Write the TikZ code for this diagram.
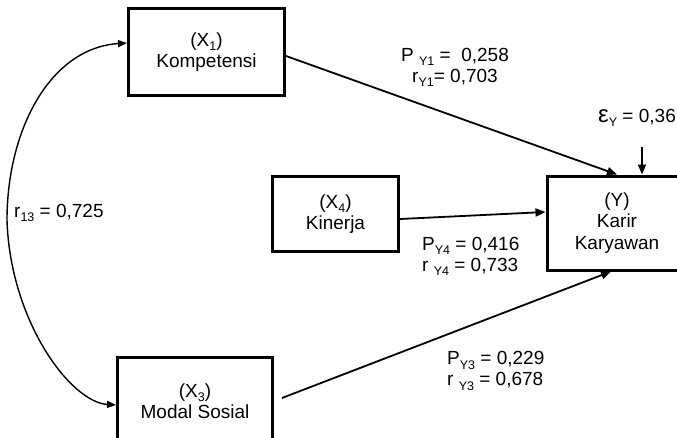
\documentclass[tikz,border=0pt]{standalone}
\usepackage{fontspec}
\setmainfont{Liberation Sans}
\usetikzlibrary{arrows.meta}
\newcommand\sbx[1]{\raisebox{-0.22em}{\fontsize{12.5}{12.5}\selectfont #1}}
\begin{document}
\begin{tikzpicture}[x=1pt,y=-1pt,
  box/.style={draw,line width=3pt,inner sep=0pt,align=center,font=\fontsize{19}{21.5}\selectfont},
  lbl/.style={inner sep=0pt,font=\fontsize{19}{21}\selectfont},
  arr/.style={line width=1.8pt,-{Triangle[length=10pt,width=8pt]}},
  dblarr/.style={line width=1.4pt,{Triangle[length=9pt,width=7pt]}-{Triangle[length=9pt,width=7pt]}},
]
\useasboundingbox (0,0) rectangle (677,437);
\clip (0,0) rectangle (677,437);
% boxes
\node[box,minimum width=156pt,minimum height=87pt] (X1) at (206.5,52) {(X\sbx{1})\\Kompetensi};
\node[box,minimum width=126pt,minimum height=75pt] (X4) at (335.5,214) {(X\sbx{4})\\Kinerja};
\node[box,minimum width=140pt,minimum height=94pt] (Y) at (617,223) {(Y)\\Karir\\Karyawan};
\node[box,minimum width=155pt,minimum height=87pt] (X3) at (195,401) {(X\sbx{3})\\Modal Sosial};
% labels
\node[lbl,align=center] (LY1) at (455,67) {P \sbx{Y1} =\ \ 0,258\\r\sbx{Y1}= 0,703};
\node[lbl,align=left,anchor=west] (LY4) at (422,256) {P\sbx{Y4} = 0,416\\r \sbx{Y4} = 0,733};
\node[lbl,align=left,anchor=west] (LY3) at (447,371) {P\sbx{Y3} = 0,229\\r \sbx{Y3} = 0,678};
\node[lbl,anchor=west] (L13) at (14,213) {r\sbx{13} = 0,725};
\node[lbl] (EPS) at (637,118) {{\fontsize{24}{24}\selectfont ε}\sbx{Y} = 0,36};
\coordinate (epsStart) at (642,147);
% connectors
\draw[arr] ([yshift=-4pt]X1.east) -- (Y.north);
\draw[arr] ([yshift=-5pt]X4.east) -- ([yshift=11pt]Y.west);
\draw[arr] ([xshift=8pt,yshift=3pt]X3.east) -- ([xshift=-6pt]Y.south);
\draw[arr] (epsStart) -- ([xshift=25pt]Y.north);
\draw[dblarr] ([yshift=9pt]X1.west) .. controls (50,48) and (7,130) .. (7,220)
  .. controls (10,320) and (70,402) .. ([yshift=-4pt]X3.west);
\end{tikzpicture}
\end{document}
